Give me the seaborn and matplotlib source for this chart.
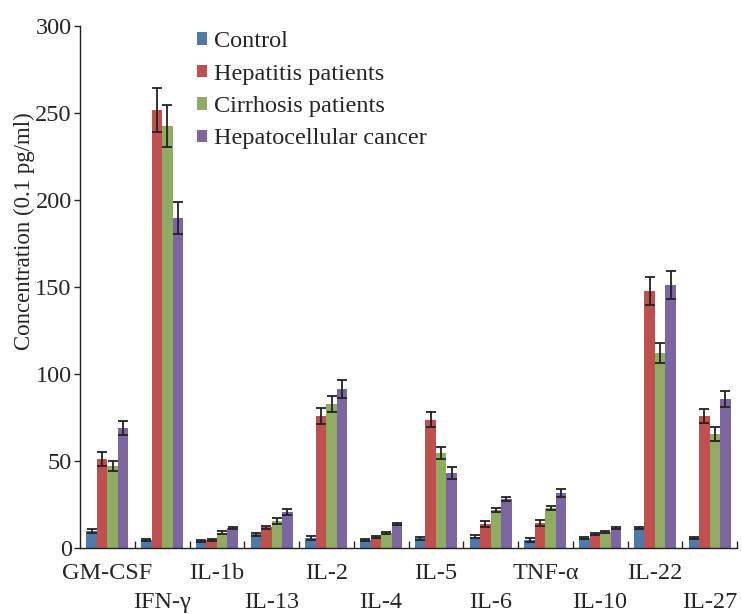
import numpy as np
import pandas as pd
import matplotlib
matplotlib.use("Agg")
import matplotlib.pyplot as plt
import seaborn as sns

cytokines = ["GM-CSF", "IFN-γ", "IL-1b", "IL-13", "IL-2", "IL-4",
             "IL-5", "IL-6", "TNF-α", "IL-10", "IL-22", "IL-27"]
groups = ["Control", "Hepatitis patients", "Cirrhosis patients", "Hepatocellular cancer"]

control = [9.8, 4.6, 4.0, 7.9, 5.7, 4.6, 5.6, 6.5, 4.6, 5.7, 11.5, 5.9]
hepatitis = [51.1, 251.7, 4.8, 11.9, 75.9, 6.5, 73.6, 13.8, 14.2, 8.0, 147.7, 75.9]
cirrhosis = [47.1, 242.5, 8.8, 15.5, 82.8, 8.8, 54.6, 21.7, 23.0, 9.2, 112.0, 65.5]
hcc = [69.0, 189.7, 11.7, 20.7, 91.4, 13.8, 43.1, 28.2, 31.6, 11.7, 151.0, 85.6]

control_err = [1.0, 0.6, 0.6, 0.8, 1.0, 0.8, 1.0, 0.7, 0.9, 0.7, 0.8, 0.6]
hepatitis_err = [4.1, 12.6, 0.5, 0.8, 4.4, 0.6, 4.3, 1.5, 1.8, 0.5, 8.0, 4.0]
cirrhosis_err = [3.0, 12.0, 0.8, 1.8, 4.6, 0.6, 3.3, 1.2, 1.2, 0.5, 5.7, 4.0]
hcc_err = [4.2, 9.0, 0.6, 1.6, 5.0, 0.8, 3.3, 1.2, 2.2, 0.6, 8.0, 4.7]

colors = ["#4F79A9", "#C0504F", "#90AC63", "#7B66A0"]

values = [control, hepatitis, cirrhosis, hcc]
errors = [control_err, hepatitis_err, cirrhosis_err, hcc_err]

rows = []
for g, vals, errs in zip(groups, values, errors):
    for c, v, e in zip(cytokines, vals, errs):
        rows.append({"cytokine": c, "group": g, "value": v, "err": e})
df = pd.DataFrame(rows)

sns.set_theme(style="ticks")
plt.rcParams["font.family"] = ["Liberation Serif", "DejaVu Serif"]

fig = plt.figure(figsize=(7.42, 6.14), dpi=100)
ax = fig.add_axes([80 / 742, 66 / 614, 657 / 742, 522 / 614])

sns.barplot(data=df, x="cytokine", y="value", hue="group", order=cytokines,
            hue_order=groups, palette=colors, width=0.77, errorbar=None,
            saturation=1, ax=ax, linewidth=0)

for cont, errs in zip(ax.containers, errors):
    xs = [p.get_x() + p.get_width() / 2 for p in cont.patches]
    hs = [p.get_height() for p in cont.patches]
    ax.errorbar(xs, hs, yerr=errs, fmt="none", ecolor="#222222",
                elinewidth=1.3, capsize=3.5, capthick=1.3, zorder=5)

ax.set_xlim(-0.5, 11.5)
ax.set_ylim(0, 300)
ax.set_yticks(np.arange(0, 301, 50))
ax.tick_params(axis="y", direction="out", length=4, width=1, labelsize=17.5, pad=2)

# group boundary ticks (inward)
ax.set_xticks(np.arange(0.5, 12, 1.0))
ax.set_xticklabels([])
ax.tick_params(axis="x", which="major", direction="in", length=5, width=1)
# first row of labels (even positions) on minor ticks
pos = np.arange(len(cytokines))
ax.set_xticks(pos[::2], minor=True)
ax.set_xticklabels(cytokines[::2], minor=True)
ax.tick_params(axis="x", which="minor", length=0, labelsize=17.5, pad=11)
# second row of labels (odd positions) on a secondary axis
sec = ax.secondary_xaxis("bottom")
sec.set_xticks(pos[1::2])
sec.set_xticklabels(cytokines[1::2])
sec.tick_params(axis="x", length=0, labelsize=17.5, pad=32)
sec.spines["bottom"].set_visible(False)

ax.set_xlabel("")
ax.set_ylabel("Concentration (0.1 pg/ml)", fontsize=16.5)
ax.yaxis.set_label_coords(-0.069, 0.607)

for s in ["top", "right"]:
    ax.spines[s].set_visible(False)
for s in ["left", "bottom"]:
    ax.spines[s].set_linewidth(1.0)
    ax.spines[s].set_color("#222222")

leg = ax.legend(loc="upper left", bbox_to_anchor=(0.178, 0.99), frameon=False,
                fontsize=17.5, handlelength=0.4, handleheight=0.4,
                handletextpad=0.3, labelspacing=0.47, borderpad=0, borderaxespad=0)

fig.savefig("out.png", dpi=100)
